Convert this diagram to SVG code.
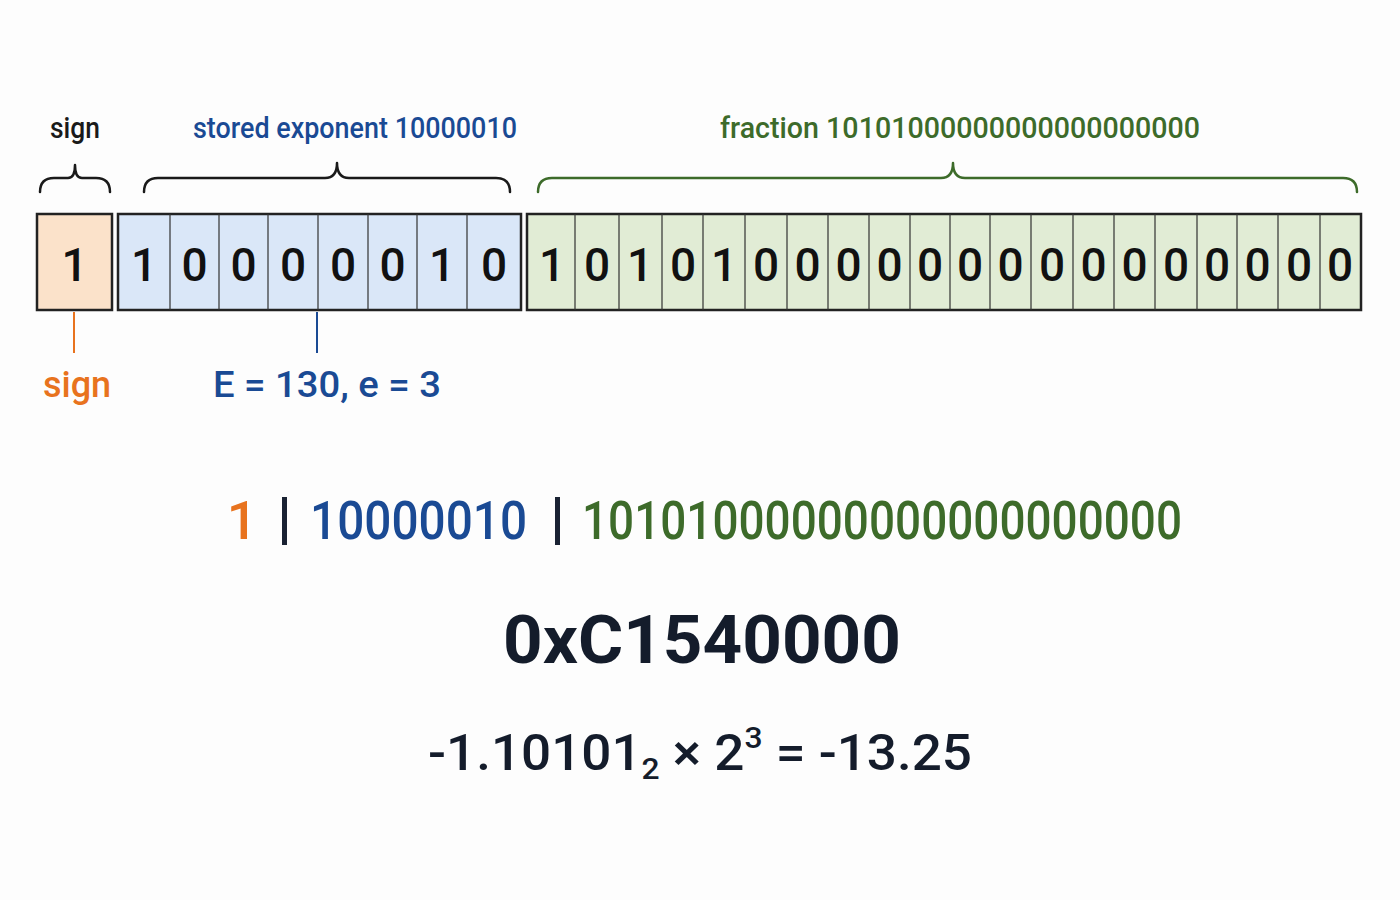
<svg xmlns="http://www.w3.org/2000/svg" width="1400" height="900" viewBox="0 0 1400 900">
<style>
.t{font-family:Roboto,"Liberation Sans",sans-serif}
.cell{stroke:#222;stroke-width:2.5}
.div{stroke:#333;stroke-width:1.2}
.d{font-family:Roboto,"Liberation Sans",sans-serif;font-size:46px;font-weight:500;fill:#111;text-anchor:middle}
.br{fill:none;stroke-width:2.5;stroke-linecap:round;stroke-linejoin:round}
</style>
<rect width="1400" height="900" fill="#fdfdfd"/>
<g id="labels" class="t" font-weight="500">
<text x="75" y="138" font-size="30" fill="#1a1a1a" text-anchor="middle" textLength="50" lengthAdjust="spacingAndGlyphs">sign</text>
<text x="355" y="138" font-size="30" fill="#1a4a94" text-anchor="middle" textLength="324" lengthAdjust="spacingAndGlyphs">stored exponent 10000010</text>
<text x="960" y="138" font-size="30" fill="#3d6b2a" text-anchor="middle" textLength="480" lengthAdjust="spacingAndGlyphs">fraction 10101000000000000000000</text>
</g>
<g id="braces">
<path class="br" stroke="#1a1a1a" d="M40 192 Q40 178 54 178 L68 178 Q75 178 75 165 Q75 178 82 178 L96 178 Q110 178 110 192"/>
<path class="br" stroke="#1a1a1a" d="M144 192 Q144 178 158 178 L325 178 Q337 178 337 163 Q337 178 349 178 L496 178 Q510 178 510 192"/>
<path class="br" stroke="#3d6b2a" d="M538 192 Q538 178 552 178 L941 178 Q953 178 953 163 Q953 178 965 178 L1343 178 Q1357 178 1357 192"/>
</g>
<g id="sign-box">
<rect class="cell" x="37" y="214" width="75" height="96" fill="#fbe2ca"/>
<text class="d" x="74.5" y="281">1</text>
</g>
<g id="exponent-box">
<rect class="cell" x="118" y="214" width="403" height="96" fill="#dae7f8"/>
<path class="div" d="M170 214V310M219 214V310M268 214V310M318 214V310M368 214V310M417 214V310M467 214V310"/>
<text class="d" y="281"><tspan x="144">1</tspan><tspan x="194.5">0</tspan><tspan x="243.5">0</tspan><tspan x="293">0</tspan><tspan x="343">0</tspan><tspan x="392.5">0</tspan><tspan x="442">1</tspan><tspan x="494">0</tspan></text>
</g>
<g id="fraction-box">
<rect class="cell" x="527" y="214" width="834" height="96" fill="#e1ecd5"/>
<path class="div" d="M575 214V310M619 214V310M662 214V310M703 214V310M745 214V310M787 214V310M828 214V310M869 214V310M910 214V310M950 214V310M990 214V310M1031 214V310M1073 214V310M1114 214V310M1155 214V310M1197 214V310M1237 214V310M1278 214V310M1320 214V310"/>
<text class="d" y="281" font-size="44"><tspan x="552">1</tspan><tspan x="597">0</tspan><tspan x="640">1</tspan><tspan x="683">0</tspan><tspan x="724">1</tspan><tspan x="766">0</tspan><tspan x="807.5">0</tspan><tspan x="848.5">0</tspan><tspan x="889.5">0</tspan><tspan x="930">0</tspan><tspan x="970">0</tspan><tspan x="1010.5">0</tspan><tspan x="1052">0</tspan><tspan x="1093.5">0</tspan><tspan x="1134.5">0</tspan><tspan x="1176">0</tspan><tspan x="1217">0</tspan><tspan x="1257.5">0</tspan><tspan x="1299">0</tspan><tspan x="1340">0</tspan></text>
</g>
<g id="connectors">
<line x1="74" y1="312" x2="74" y2="353" stroke="#e8731e" stroke-width="2"/>
<line x1="317" y1="312" x2="317" y2="353" stroke="#1a4a94" stroke-width="2"/>
</g>
<g id="callouts" class="t" font-weight="500">
<text x="77" y="397" font-size="36" fill="#e8731e" text-anchor="middle">sign</text>
<text x="213" y="397" font-size="37" fill="#1a4a94" textLength="228" lengthAdjust="spacingAndGlyphs">E = 130, e = 3</text>
</g>
<g id="bitstring" class="t" font-size="54" font-weight="500">
<text x="242" y="539" fill="#e8731e" text-anchor="middle">1</text>
<rect x="282" y="497" width="5" height="48" fill="#1a2233"/>
<text x="310" y="539" fill="#1a4a94" textLength="217" lengthAdjust="spacingAndGlyphs">10000010</text>
<rect x="555" y="497" width="5" height="48" fill="#1a2233"/>
<text x="582" y="539" fill="#3d6b2a" textLength="600" lengthAdjust="spacingAndGlyphs">10101000000000000000000</text>
</g>
<g id="hex" class="t">
<text x="702" y="663" font-size="66" font-weight="bold" fill="#141c2b" text-anchor="middle" textLength="398" lengthAdjust="spacingAndGlyphs">0xC1540000</text>
</g>
<g id="formula" class="t" font-size="50" font-weight="500" fill="#141c2b">
<text x="428" y="770" textLength="544" lengthAdjust="spacingAndGlyphs">-1.10101<tspan font-size="30" dy="9">2</tspan><tspan dy="-9"> × 2</tspan><tspan font-size="30" dy="-22">3</tspan><tspan dy="22"> = -13.25</tspan></text>
</g>
</svg>
